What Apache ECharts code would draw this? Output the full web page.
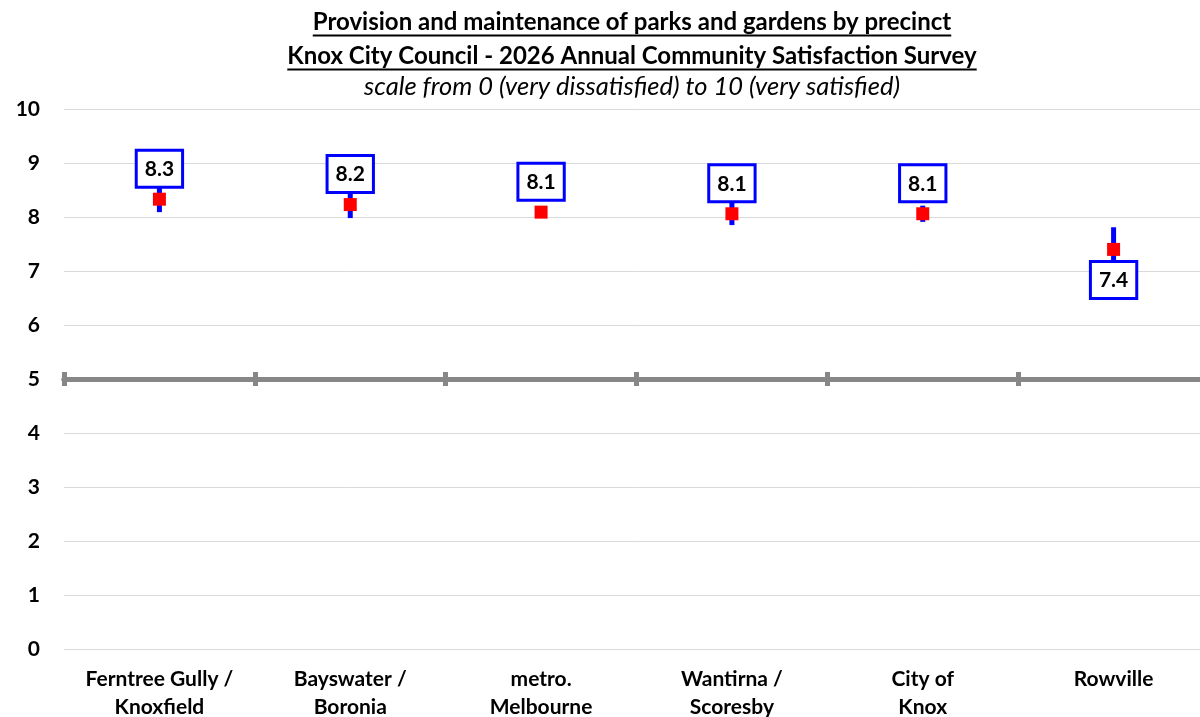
<!DOCTYPE html>
<html>
<head>
<meta charset="utf-8">
<script src="https://cdn.jsdelivr.net/npm/echarts@6/dist/echarts.min.js"></script>
<style>html,body{margin:0;padding:0;background:#fff}#c{width:1200px;height:717px}</style>
</head>
<body>
<div id="c"></div>
<script>
var titleLines = ['Provision and maintenance of parks and gardens by precinct',
                  'Knox City Council - 2026 Annual Community Satisfaction Survey'];
var subtitle = 'scale from 0 (very dissatisfied) to 10 (very satisfied)';
var categories = ['Ferntree Gully /\nKnoxfield', 'Bayswater /\nBoronia', 'metro.\nMelbourne',
                  'Wantirna /\nScoresby', 'City of\nKnox', 'Rowville'];
var means = [8.33, 8.23, 8.09, 8.06, 8.06, 7.40];
var margins = [0.24, 0.25, 0, 0.21, 0.15, 0.41];
var labelSide = ['top', 'top', 'top', 'top', 'top', 'bottom'];
var yTicks = [0, 1, 2, 3, 4, 5, 6, 7, 8, 9, 10];

var FONT = 'Lato, "Open Sans", sans-serif';
var chart = echarts.init(document.getElementById('c'));

function measure(text, font) {
  var cv = document.createElement('canvas').getContext('2d');
  cv.font = font;
  return cv.measureText(text).width;
}
var cx = 632;
var graphics = [];
var tys = [22, 56];
var TFONT = 'bold 24px ' + FONT;
titleLines.forEach(function (t, i) {
  var w = measure(t, TFONT);
  graphics.push({type: 'text', x: cx, y: tys[i], style: {text: t, font: TFONT, fill: '#000', textAlign: 'center', textVerticalAlign: 'middle'}});
  graphics.push({type: 'line', shape: {x1: cx - w / 2, y1: tys[i] + 13.5, x2: cx + w / 2, y2: tys[i] + 13.5}, style: {stroke: '#000', lineWidth: 2}});
});
graphics.push({type: 'text', x: cx, y: 87, style: {text: subtitle, font: 'italic 25.5px ' + FONT, fill: '#000', textAlign: 'center', textVerticalAlign: 'middle'}});

var errData = means.map(function (m, i) { return [i, m - margins[i], m + margins[i]]; });
var ptData = means.map(function (m, i) {
  return {value: [i, m], label: {position: labelSide[i]}};
});

var hidden = {show: false};
var option = {
  animation: false,
  backgroundColor: '#fff',
  graphic: graphics,
  grid: {left: 64, top: 109, width: 1145, height: 540, containLabel: false, outerBoundsMode: 'none'},
  xAxis: [
    {type: 'category', data: categories, boundaryGap: true,
     axisLine: hidden, axisTick: hidden, splitLine: hidden,
     axisLabel: {interval: 0, fontFamily: FONT, fontWeight: 'bold', fontSize: 21, color: '#000', lineHeight: 28, margin: 16}},
    {type: 'category', data: categories, boundaryGap: true,
     axisLine: {show: true, onZero: true, onZeroAxisIndex: 1, lineStyle: {color: '#878787', width: 5}},
     axisTick: {show: true, interval: 0, length: 7, lineStyle: {color: '#878787', width: 5}},
     axisLabel: hidden, splitLine: hidden},
    {type: 'category', data: categories, boundaryGap: true,
     axisLine: {show: true, onZero: true, onZeroAxisIndex: 1, lineStyle: {color: '#878787', width: 5}},
     axisTick: {show: true, inside: true, interval: 0, length: 7, lineStyle: {color: '#878787', width: 5}},
     axisLabel: hidden, splitLine: hidden}
  ],
  yAxis: [
    {type: 'value', min: yTicks[0], max: yTicks[yTicks.length - 1], interval: 1,
     axisLine: hidden, axisTick: hidden,
     splitLine: {show: true, lineStyle: {color: '#d9d9d9', width: 1}},
     axisLabel: {fontFamily: FONT, fontWeight: 'bold', fontSize: 21, color: '#000', margin: 24}},
    {type: 'value', min: -5, max: 5, show: false}
  ],
  series: [
    {type: 'custom', xAxisIndex: 0, yAxisIndex: 0, z: 2, data: errData,
     renderItem: function (params, api) {
       if (api.value(2) - api.value(1) <= 0) return null;
       var a = api.coord([api.value(0), api.value(1)]);
       var b = api.coord([api.value(0), api.value(2)]);
       return {type: 'line', shape: {x1: a[0], y1: a[1], x2: b[0], y2: b[1]},
               style: {stroke: '#0000ff', lineWidth: 5}};
     }},
    {type: 'scatter', xAxisIndex: 0, yAxisIndex: 0, z: 5, data: ptData,
     symbol: 'rect', symbolSize: 13, itemStyle: {color: '#ff0000', opacity: 1},
     emphasis: {disabled: true},
     label: {show: true, distance: 7,
       formatter: function (p) { return p.value[1].toFixed(1); },
       fontFamily: FONT, fontWeight: 'bold', fontSize: 21, color: '#000', lineHeight: 23,
       backgroundColor: '#fff', borderColor: '#0000ff', borderWidth: 3, padding: [6, 7, 5, 7]}}
  ]
};
chart.setOption(option);
</script>
</body>
</html>
